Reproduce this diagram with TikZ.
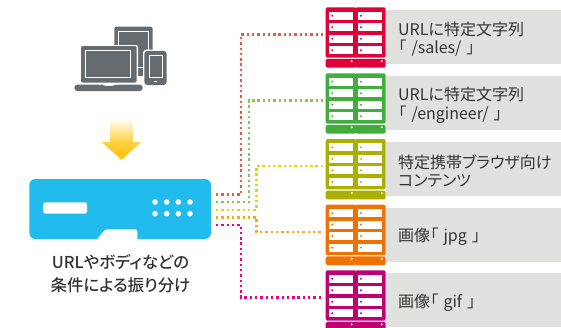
\documentclass[tikz,border=0pt]{standalone}
\usepackage{fontspec}
\setmainfont[RawFeature=+palt]{Noto Sans CJK JP}
\newfontfamily\captionfont[RawFeature=+palt]{Noto Sans CJK JP Medium}
\usepackage{xcolor}
\usetikzlibrary{positioning,
        arrows.meta}
\AtBeginDocument{\lineskiplimit=-20pt}

\definecolor{rackred}{HTML}{DF0039}
\definecolor{rackgreen}{HTML}{3FAE3C}
\definecolor{rackolive}{HTML}{AAB000}
\definecolor{rackorange}{HTML}{F07000}
\definecolor{rackpink}{HTML}{BE0070}
\definecolor{wirered}{HTML}{EE5A40}
\definecolor{wiregreen}{HTML}{8CC63F}
\definecolor{wireyellow}{HTML}{D4E000}
\definecolor{wireorange}{HTML}{FAA61A}
\definecolor{wirepink}{HTML}{EC008C}
\definecolor{devicegray}{HTML}{666B70}
\definecolor{boxblue}{HTML}{22BBEE}
\definecolor{labelgray}{HTML}{E0E0DF}
\definecolor{textgray}{HTML}{333333}
\definecolor{arrowtop}{HTML}{FFD040}
\definecolor{arrowtip}{HTML}{FFBE00}

\tikzset{
        rackbody/.style={rectangle,rounded corners=2pt,inner sep=0pt,minimum width=60,minimum height=50.4},
        rackbase/.style={rectangle,rounded corners=1.5pt,inner sep=0pt,minimum width=60,minimum height=8.8},
        labelbox/.style={rectangle,fill=labelgray,text=textgray,inner sep=0pt,inner xsep=12pt,minimum width=175,minimum height=54,
                text width=151,align=left,font=\fontsize{16}{18.5}\selectfont,execute at begin node={\rule{0pt}{18pt}}},
        wire/.style={line width=2.4pt,dash pattern=on 2.4pt off 2.9pt},
        devicescreen/.style={draw=white,line width=1,fill=devicegray}
}

\begin{document}
\begin{tikzpicture}[x=1pt,y=-1pt]
        \clip (0,0) rectangle (561,327);

        % devices
        \fill [devicegray,rounded corners=2pt] (114.3,26.7) rectangle (152.7,76);
        \draw [white,line width=1] (118.9,67.3) -- (118.9,31.2) -- (148.2,31.2) -- (148.2,67.3) -- (137,67.3);
        \fill [white,rounded corners=2pt] (80,45) rectangle (138,84);
        \fill [devicegray,rounded corners=2pt] (81,46) rectangle (136.7,82.7);
        \draw [devicescreen] (85.9,50.4) rectangle (130.8,77.4);
        \fill [devicegray,rounded corners=3pt] (74.3,84.7) -- (101.5,84.7) -- (103,85.8) -- (114.5,85.8) -- (116,84.7) -- (142.7,84.7) -- (142.7,91) -- (74.3,91) -- cycle;
        \fill [white,rounded corners=3pt] (143,49.7) rectangle (167.7,86);
        \fill [devicegray,rounded corners=3pt] (144.3,50.9) rectangle (166.6,85);
        \draw [devicescreen] (149.2,55.2) rectangle (162.5,77.6);
        \fill [white] (154.2,81) rectangle (156.6,81.9);

        % arrow
        \shade [top color=white,bottom color=arrowtop] (110.7,118) rectangle (132.7,142);
        \shade [top color=arrowtop,bottom color=arrowtip] (141.3,142) -- (121.5,159.7) -- (101.7,142) -- cycle;

        % load balancer
        \node [rectangle,fill=boxblue,rounded corners=6pt,inner sep=0pt,minimum width=181.7,minimum height=60] (lb) at (120.15,209) {};
        \fill [white,rounded corners=1.5pt] (96.5,240) -- (105,229.4) -- (137.4,229.4) -- (137.4,240) -- cycle;
        \fill [white,rounded corners=1.5pt] (43.2,202.3) rectangle (87,213.6);
        \foreach \x in {155,166.7,178.3,190}
        \foreach \y in {202,213.7}
        \fill [white] (\x,\y) circle (2.8);
        \node [text=textgray,align=center,font=\fontsize{16.4}{22.5}\selectfont\captionfont] (caption) at (120.5,273.5) {URLやボディなどの\\条件による振り分け};

        % racks
        \foreach \n/\y/\col in {1/7.3/rackred,2/73.3/rackgreen,3/139/rackolive,4/204.7/rackorange,5/270.3/rackpink} {
                \node [rackbody,fill=\col] (rack\n) at (355.7,\y+25.2) {};
                \node [rackbase,fill=\col] (base\n) at (355.7,\y+56) {};
                \coordinate (in\n) at ([xshift=-2pt,yshift=-1.8pt]rack\n.west);
                \fill [white] (355.7,\y) circle (0.7);
                \fill [white] (355.7,\y+60.4) circle (0.7);
                \fill [white] (351.7,\y+54) circle (1.1);
                \fill [white] (381.7,\y+54) circle (1.1);
                \foreach \u in {0,11.5,23,34.5} {
                        \foreach \v in {329,357.7} {
                                \fill [white] (\v,\y+4.4+\u) rectangle (\v+24.3,\y+12.4+\u);
                                \fill [\col] (\v+3.3,\y+8.4+\u) circle (1.1);
                        }
                }
        }

        % labels
        \node [labelbox,anchor=west] (label1) at (386,37) {URLに特定文字列\\「 /sales/ 」};
        \node [labelbox,anchor=west] (label2) at (386,103) {URLに特定文字列\\「 /engineer/ 」};
        \node [labelbox,anchor=west] (label3) at (386,168.7) {特定携帯ブラウザ向け\\コンテンツ};
        \node [labelbox,anchor=west] (label4) at (386,234.7) {画像「 jpg 」};
        \node [labelbox,anchor=west] (label5) at (386,300.3) {画像「 gif 」};

        % connectors
        \coordinate (out1) at (216,194.5);
        \coordinate (out2) at (216,202);
        \coordinate (out3) at (216,209.7);
        \coordinate (out4) at (216,217.3);
        \coordinate (out5) at (216,225);

        \draw [wire,wirered] (out1) -- ++(25,0) |- (in1);
        \draw [wire,wiregreen] (out2) -- ++(33,0) |- (in2);
        \draw [wire,wireyellow] (out3) -- ++(40.3,0) |- (in3);
        \draw [wire,wireorange] (out4) -- ++(40.3,0) |- (in4);
        \draw [wire,wirepink] (out5) -- ++(25,0) |- (in5);
\end{tikzpicture}
\end{document}
